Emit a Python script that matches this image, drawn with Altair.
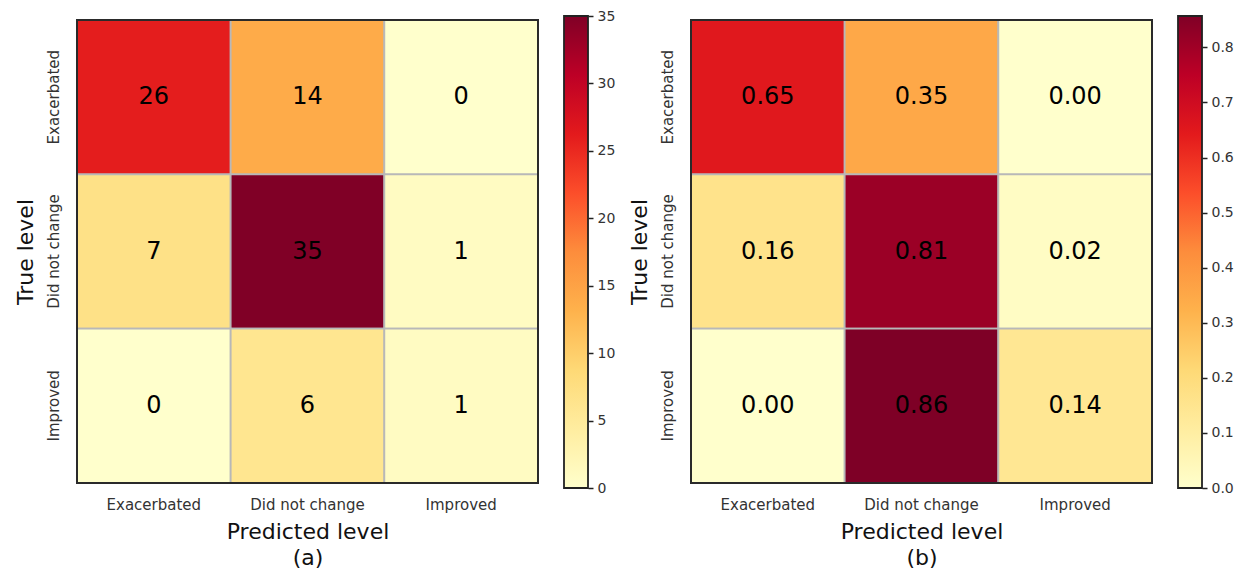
import altair as alt
import pandas as pd

labels = ["Exacerbated", "Did not change", "Improved"]
counts = [[26, 14, 0], [7, 35, 1], [0, 6, 1]]
norm = [[0.65, 0.35, 0.00], [0.16, 0.81, 0.02], [0.00, 0.86, 0.14]]
count_ticks = [0, 5, 10, 15, 20, 25, 30, 35]
norm_ticks = [0.0, 0.1, 0.2, 0.3, 0.4, 0.5, 0.6, 0.7, 0.8]
count_max = 35
norm_max = 0.857
ylorrd = ["#ffffcc", "#ffeda0", "#fed976", "#feb24c", "#fd8d3c",
          "#fc4e2a", "#e31a1c", "#bd0026", "#800026"]

FONT = "DejaVu Sans"
W, H = 461, 463


def long_df(mat):
    rows = []
    for i, t in enumerate(labels):
        for j, p in enumerate(labels):
            rows.append({"true": t, "pred": p, "v": mat[i][j]})
    return pd.DataFrame(rows)


def heat(mat, vmax, fmt, sub):
    df = long_df(mat)
    n = len(ylorrd)
    dom = [vmax * k / (n - 1) for k in range(n)]
    base = alt.Chart(df)
    rect = base.mark_rect(stroke="#b8b8b8", strokeWidth=1.8).encode(
        x=alt.X("pred:N", sort=labels,
                axis=alt.Axis(title=["Predicted level", sub], titleFontSize=22,
                              titleFontWeight="normal", titleColor="#111",
                              titleFont=FONT, titleLineHeight=26, titlePadding=9,
                              labelFontSize=15, labelColor="#333", labelFont=FONT,
                              labelAngle=0, labelPadding=14, ticks=False, domain=False)),
        y=alt.Y("true:N", sort=labels,
                axis=alt.Axis(title="True level", titleFontSize=22,
                              titleFontWeight="normal", titleColor="#111",
                              titleFont=FONT, titlePadding=9,
                              labelFontSize=15, labelColor="#333", labelFont=FONT,
                              labelAngle=270, labelAlign="center", labelBaseline="bottom",
                              labelPadding=16, ticks=False, domain=False)),
        color=alt.Color("v:Q", scale=alt.Scale(domain=dom, range=ylorrd,
                                               interpolate="rgb"), legend=None),
    )
    txt = base.mark_text(fontSize=24, font=FONT, color="black").encode(
        x=alt.X("pred:N", sort=labels),
        y=alt.Y("true:N", sort=labels),
        text=alt.Text("v:Q", format=fmt),
    )
    border = alt.Chart(pd.DataFrame({"b": [0]})).mark_rect(
        fillOpacity=0, stroke="#2a2a2a", strokeWidth=2
    ).encode(x=alt.value(0), x2=alt.value(W), y=alt.value(0), y2=alt.value(H))
    return alt.layer(rect, txt, border).resolve_scale(color="independent").properties(
        width=W, height=H)


def cbar(vmax, ticks, fmt):
    df = pd.DataFrame({"lo": [0], "hi": [vmax]})
    n = len(ylorrd)
    grad = alt.Gradient(
        gradient="linear",
        stops=[alt.GradientStop(color=c, offset=k / (n - 1)) for k, c in enumerate(ylorrd)],
        x1=0, x2=0, y1=1, y2=0,
    )
    return alt.Chart(df).mark_rect(color=grad, stroke="#222", strokeWidth=1.8).encode(
        y=alt.Y("lo:Q", scale=alt.Scale(domain=[0, vmax], nice=False, zero=True,
                                        range=[H + 5, -4]),
                axis=alt.Axis(orient="right", values=ticks, format=fmt, title=None,
                              labelFontSize=14, labelColor="#333", labelFont=FONT,
                              tickSize=5, tickColor="#222", tickWidth=1.5,
                              domain=False, grid=False, labelPadding=4)),
        y2="hi:Q",
    ).properties(width=24, height=H)


left = alt.hconcat(heat(counts, count_max, "d", "(a)"),
                   cbar(count_max, count_ticks, "d"), spacing=22)
right = alt.hconcat(heat(norm, norm_max, ".2f", "(b)"),
                    cbar(norm_max, norm_ticks, ".1f"), spacing=22)

chart = alt.hconcat(left, right, spacing=11).resolve_scale(
    color="independent"
).properties(
    padding={"left": 5, "right": 0, "top": 0, "bottom": 5}
).configure_view(stroke=None).configure(background="white")

chart.save("out.html", embed_options={"renderer": "svg", "actions": False})
